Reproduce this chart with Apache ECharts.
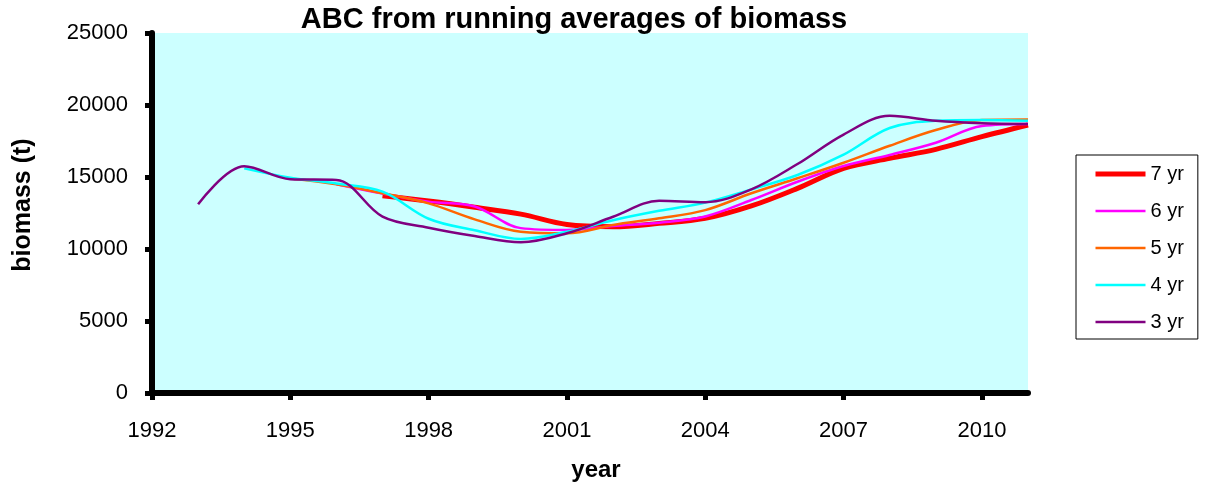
<!DOCTYPE html>
<html>
<head>
<meta charset="utf-8">
<script src="https://cdn.jsdelivr.net/npm/echarts@6/dist/echarts.min.js"></script>
<style>
  html, body { margin: 0; padding: 0; background: #ffffff; }
  #chart { width: 1208px; height: 488px; }
</style>
</head>
<body>
<div id="chart"></div>
<script>
// Years covered by the running averages
var years = [1993, 1994, 1995, 1996, 1997, 1998, 1999, 2000, 2001, 2002,
             2003, 2004, 2005, 2006, 2007, 2008, 2009, 2010, 2011];

// Running-average biomass (t); each window starts later as it widens
var avg7 = [13700, 13330, 12900, 12420, 11700, 11550, 11780, 12130, 12990, 14210, 15600, 16300, 16920, 17800, 18610]; // 1997-2011
var avg6 = [14500, 13850, 13290, 12950, 11450, 11320, 11600, 11830, 12260, 13400, 14670, 15760, 16530, 17380, 18540, 18680]; // 1996-2011
var avg5 = [14900, 14500, 13870, 13170, 12060, 11200, 11090, 11670, 12130, 12700, 13870, 14910, 15990, 17170, 18260, 18960, 19000]; // 1995-2011
var avg4 = [15600, 14950, 14550, 13980, 12100, 11300, 10700, 11200, 12000, 12650, 13220, 14140, 15140, 16550, 18400, 18900, 18960, 18900]; // 1994-2011
var avg3 = [13100, 15750, 14850, 14800, 12250, 11480, 10900, 10470, 11090, 12240, 13350, 13250, 14140, 15900, 17950, 19250, 18900, 18730, 18680]; // 1993-2011

var seriesNames = ['7 yr', '6 yr', '5 yr', '4 yr', '3 yr'];
var seriesColors = ['#FF0000', '#FF00FF', '#FF6600', '#00FFFF', '#800080'];
var seriesWidths = [5, 2.5, 2.5, 2.5, 2.5];
var xTicks = [1992, 1995, 1998, 2001, 2004, 2007, 2010];
var yTicks = [0, 5000, 10000, 15000, 20000, 25000];

var FONT = '"Liberation Sans", Arial, sans-serif';

// pair each value with its year, aligned to the end of the year list
function pairs(values) {
  var offset = years.length - values.length;
  return values.map(function (v, i) { return [years[i + offset], v]; });
}

var seriesValues = [avg7, avg6, avg5, avg4, avg3];

var series = seriesNames.map(function (name, i) {
  return {
    name: name,
    type: 'line',
    data: pairs(seriesValues[i]),
    smooth: 0.35,
    symbol: 'none',
    showSymbol: false,
    lineStyle: { color: seriesColors[i], width: seriesWidths[i] },
    itemStyle: { color: seriesColors[i] },
    emphasis: { disabled: true }
  };
});

// legend entries: plain line samples, thickness following each series
var legendData = seriesNames.map(function (name, i) {
  return {
    name: name,
    itemStyle: { opacity: 0 },
    lineStyle: { color: seriesColors[i], width: seriesWidths[i] }
  };
});

var chart = echarts.init(document.getElementById('chart'), null, { renderer: 'canvas' });

chart.setOption({
  animation: false,
  backgroundColor: '#ffffff',
  textStyle: { fontFamily: FONT },
  grid: {
    left: 152, right: 180, top: 33, bottom: 95,
    show: true, backgroundColor: '#CCFFFF', borderWidth: 0
  },
  xAxis: {
    type: 'value',
    min: 1992, max: 2011, interval: 3,
    axisLine: { show: true, onZero: false, lineStyle: { color: '#000', width: 6 } },
    axisTick: { show: true, length: 7, lineStyle: { color: '#000', width: 5 }, customValues: xTicks },
    axisLabel: { color: '#000', fontSize: 22, fontFamily: FONT, margin: 27, customValues: xTicks,
                 formatter: function (v) { return String(v); } },
    splitLine: { show: false }
  },
  yAxis: {
    type: 'value',
    min: 0, max: 25000, interval: 5000,
    axisLine: { show: true, lineStyle: { color: '#000', width: 6 } },
    axisTick: { show: true, length: 7, lineStyle: { color: '#000', width: 5 }, customValues: yTicks },
    axisLabel: { color: '#000', fontSize: 22, fontFamily: FONT, margin: 24, customValues: yTicks,
                 formatter: function (v) { return String(v); } },
    splitLine: { show: false }
  },
  legend: {
    orient: 'vertical',
    left: 1076, top: 155,
    padding: [8, 14, 6, 17],
    itemGap: 15,
    itemWidth: 50, itemHeight: 14,
    borderColor: '#000', borderWidth: 1,
    backgroundColor: '#ffffff',
    textStyle: { color: '#000', fontSize: 20, lineHeight: 22, fontFamily: FONT },
    data: legendData
  },
  graphic: [
    {
      type: 'text', x: 574, y: 20,
      style: { text: 'ABC from running averages of biomass', fill: '#000',
               font: 'bold 29px ' + FONT, align: 'center', verticalAlign: 'middle' }
    },
    {
      type: 'text', x: 596, y: 470,
      style: { text: 'year', fill: '#000',
               font: 'bold 24px ' + FONT, align: 'center', verticalAlign: 'middle' }
    },
    {
      type: 'text', x: 23, y: 205, rotation: Math.PI / 2,
      style: { text: 'biomass (t)', fill: '#000',
               font: 'bold 25px ' + FONT, align: 'center', verticalAlign: 'middle' }
    }
  ],
  series: series
});
</script>
</body>
</html>
